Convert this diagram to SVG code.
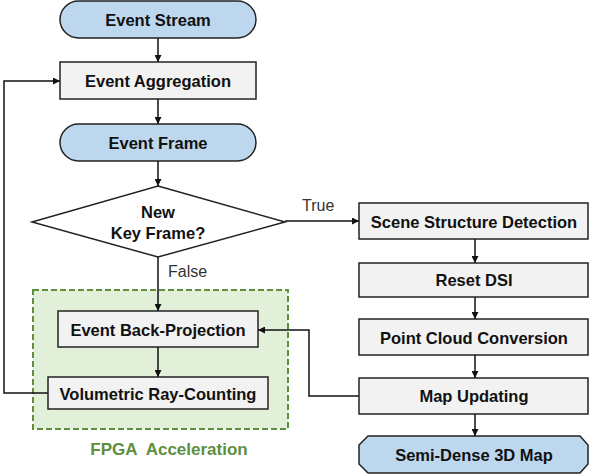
<svg xmlns="http://www.w3.org/2000/svg" width="590" height="474" viewBox="0 0 590 474">
<defs>
<style>
.t{font-family:"Liberation Sans",Arial,sans-serif;font-weight:bold;font-size:16.5px;fill:#111;text-anchor:middle;dominant-baseline:central}
.l{font-family:"Liberation Sans",Arial,sans-serif;font-size:16px;fill:#333;dominant-baseline:central}
.blue{fill:#bdd7ee;stroke:#222;stroke-width:1.5}
.gray{fill:#f2f2f2;stroke:#222;stroke-width:1.5}
.c{fill:none;stroke:#111;stroke-width:1.5}
</style>
<marker id="ah" viewBox="0 0 10 10" refX="10" refY="5" markerWidth="7" markerHeight="7" markerUnits="userSpaceOnUse" orient="auto">
<path d="M0,0 L10,5 L0,10 z" fill="#111"/>
</marker>
</defs>
<g id="fpga">
<rect x="33" y="290" width="255" height="139" fill="#e2efd9" stroke="#5e8e3e" stroke-width="2" stroke-dasharray="6,3"/>
<text x="169" y="449" class="t" style="fill:#5e8e3e;font-size:17px" xml:space="preserve">FPGA  Acceleration</text>
</g>
<g id="connectors">
<line class="c" x1="158" y1="38" x2="158" y2="62" marker-end="url(#ah)"/>
<line class="c" x1="158" y1="99" x2="158" y2="124" marker-end="url(#ah)"/>
<line class="c" x1="158" y1="161" x2="158" y2="186" marker-end="url(#ah)"/>
<line class="c" x1="285" y1="221" x2="359" y2="221" marker-end="url(#ah)"/>
<line class="c" x1="158" y1="257" x2="158" y2="311" marker-end="url(#ah)"/>
<line class="c" x1="158" y1="347" x2="158" y2="377" marker-end="url(#ah)"/>
<polyline class="c" points="48,393 4,393 4,81 60,81" marker-end="url(#ah)"/>
<line class="c" x1="475" y1="239" x2="475" y2="263" marker-end="url(#ah)"/>
<line class="c" x1="475" y1="297" x2="475" y2="319" marker-end="url(#ah)"/>
<line class="c" x1="475" y1="355" x2="475" y2="378" marker-end="url(#ah)"/>
<line class="c" x1="475" y1="414" x2="475" y2="436" marker-end="url(#ah)"/>
<polyline class="c" points="359,396 309,396 309,330 258,330" marker-end="url(#ah)"/>
<text x="302" y="205" class="l">True</text>
<text x="168" y="271" class="l">False</text>
</g>
<g id="event-stream">
<rect x="60" y="1" width="196" height="37" rx="18.5" class="blue"/>
<text x="158" y="20" class="t">Event Stream</text>
</g>
<g id="event-aggregation">
<rect x="60" y="62" width="196" height="37" class="gray"/>
<text x="158" y="81" class="t">Event Aggregation</text>
</g>
<g id="event-frame">
<rect x="60" y="124" width="196" height="37" rx="18.5" class="blue"/>
<text x="158" y="143" class="t">Event Frame</text>
</g>
<g id="key-frame">
<polygon points="158,186 285,222 158,257 32,222" fill="#fff" stroke="#222" stroke-width="1.5"/>
<text x="158" y="212" class="t">New</text>
<text x="158" y="233" class="t">Key Frame?</text>
</g>
<g id="back-projection">
<rect x="58" y="311" width="200" height="36" class="gray"/>
<text x="158" y="330" class="t">Event Back-Projection</text>
</g>
<g id="ray-counting">
<rect x="48" y="377" width="220" height="32" class="gray"/>
<text x="158" y="394" class="t">Volumetric Ray-Counting</text>
</g>
<g id="scene-structure">
<rect x="359" y="203" width="229" height="36" class="gray"/>
<text x="474" y="222" class="t">Scene Structure Detection</text>
</g>
<g id="reset-dsi">
<rect x="359" y="263" width="229" height="34" class="gray"/>
<text x="474" y="280" class="t">Reset DSI</text>
</g>
<g id="point-cloud">
<rect x="359" y="319" width="229" height="36" class="gray"/>
<text x="474" y="338" class="t">Point Cloud Conversion</text>
</g>
<g id="map-updating">
<rect x="359" y="378" width="229" height="36" class="gray"/>
<text x="474" y="396" class="t">Map Updating</text>
</g>
<g id="semi-dense">
<polygon points="368,436 580,436 588,445 588,464 580,473 368,473 359,464 359,445" class="blue"/>
<text x="474" y="455" class="t">Semi-Dense 3D Map</text>
</g>
</svg>
